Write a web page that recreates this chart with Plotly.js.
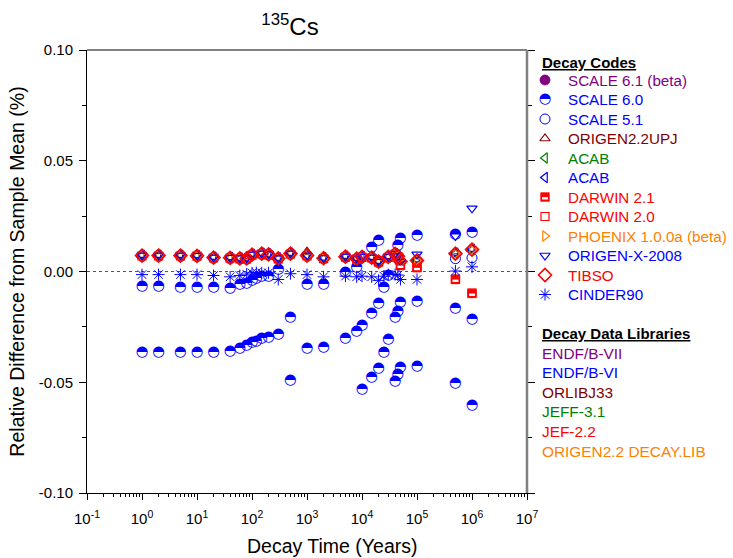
<!DOCTYPE html>
<html><head><meta charset="utf-8">
<script src="https://cdn.plot.ly/plotly-3.0.1.min.js"></script>
<style>html,body{margin:0;padding:0;background:#fff}#chart{width:733px;height:558px}</style>
</head><body><div id="chart"></div>
<script>
// ---------------- DATA ----------------
const decayTime = [1,2,5,10,20,40,60,80,100,120,150,200,300,500,1000,2000,5000,8000,10000,15000,20000,25000,30000,40000,45000,50000,100000,500000,1000000];

const scale61 = [null,null,null,null,null,null,null,null,null,null,null,null,null,null,null,null,null,null,null,null,null,null,null,null,null,null,null,null,null];
const scale60Upper = [-0.0069,-0.0069,-0.0072,-0.0072,-0.0072,-0.0074,-0.0059,-0.0054,-0.0039,-0.0033,-0.0024,-0.0021,0.0008,-0.0205,-0.0059,-0.0056,-0.0006,0.0017,null,0.0107,0.0140,-0.0070,-0.0017,null,0.0117,0.0148,0.0164,0.0167,0.0175];
const scale60Middle = [-0.0363,-0.0363,-0.0363,-0.0363,-0.0363,-0.0360,-0.0345,-0.0334,-0.0322,-0.0315,-0.0304,-0.0299,-0.0284,-0.0492,-0.0348,-0.0342,-0.0302,-0.0272,-0.0244,-0.0187,-0.0144,-0.0364,-0.0307,-0.0205,-0.0179,-0.0141,-0.0134,-0.0167,-0.0214];
const scale60Lower = [null,null,null,null,null,null,null,null,null,null,null,null,null,null,null,null,null,null,-0.0533,-0.0477,-0.0438,null,null,-0.0495,-0.0465,-0.0435,-0.0427,-0.0503,-0.0605];
const scale51 = [0.0070,0.0070,0.0070,0.0069,0.0061,0.0059,0.0057,0.0056,0.0074,null,0.0079,0.0075,0.0057,0.0079,0.0070,0.0058,0.0065,0.0056,0.0064,0.0061,0.0043,null,0.0064,0.0078,0.0067,0.0043,0.0048,0.0058,0.0062];
const origen22upj = [0.0074,0.0074,0.0074,0.0073,0.0065,0.0064,0.0061,0.0061,0.0078,null,0.0083,0.0079,0.0061,0.0083,0.0089,0.0062,0.0069,0.0060,0.0068,0.0065,0.0047,null,0.0068,0.0082,0.0071,0.0047,0.0054,0.0083,0.0101];
const acabJeff = [0.0071,0.0071,0.0071,0.0070,0.0062,0.0061,0.0058,0.0058,0.0075,null,0.0080,0.0076,0.0058,0.0080,0.0071,0.0059,0.0066,0.0057,0.0065,0.0062,0.0043,null,0.0065,0.0079,0.0068,0.0043,0.0051,0.0080,0.0098];
const acabEndf = [0.0074,0.0074,0.0074,0.0073,0.0065,0.0064,0.0061,0.0061,0.0078,null,0.0083,0.0079,0.0061,0.0083,0.0074,0.0062,0.0069,0.0060,0.0068,0.0065,0.0046,null,0.0068,0.0082,0.0071,0.0046,0.0054,0.0083,0.0101];
const darwin21 = [null,null,null,null,null,null,null,null,null,null,null,null,null,null,null,null,null,null,null,null,null,null,null,null,null,0.0027,0.0017,-0.0036,-0.0099];
const darwin20 = [0.0070,0.0070,0.0070,0.0069,0.0061,0.0060,0.0057,0.0057,0.0074,null,0.0079,0.0075,0.0057,0.0079,0.0070,0.0058,0.0065,0.0056,0.0064,0.0061,0.0042,null,0.0064,0.0078,0.0067,0.0030,0.0020,-0.0034,-0.0097];
const phoenix = [0.0070,0.0070,0.0070,0.0069,0.0061,0.0060,0.0057,0.0057,0.0074,null,0.0079,0.0075,0.0057,0.0079,0.0070,0.0058,0.0065,0.0056,0.0064,0.0061,0.0042,null,0.0064,0.0078,0.0067,0.0042,0.0050,0.0079,0.0097];
const origenX2008 = [0.0073,0.0073,0.0073,0.0072,0.0064,0.0063,0.0060,0.0060,0.0077,null,0.0082,0.0078,0.0060,0.0082,0.0073,0.0061,0.0068,0.0059,0.0067,0.0064,0.0045,null,0.0067,0.0081,0.0070,0.0045,0.0077,0.0160,0.0285];
const tibso = [0.0072,0.0072,0.0072,0.0071,0.0063,0.0062,0.0059,0.0059,0.0076,null,0.0081,0.0077,0.0059,0.0081,0.0072,0.0060,0.0067,0.0058,0.0066,0.0063,0.0045,null,0.0066,0.0080,0.0069,0.0045,0.0050,0.0081,0.0099];
const cinder90 = [-0.0014,-0.0014,-0.0014,-0.0014,-0.0018,-0.0024,-0.0018,-0.0012,-0.0006,-0.0005,-0.0006,-0.0006,-0.0036,-0.0010,-0.0014,-0.0024,-0.0021,-0.0024,-0.0021,-0.0024,-0.0040,-0.0021,-0.0014,-0.0014,-0.0016,-0.0036,-0.0036,0.0002,0.0021];

const codeNames = ['SCALE 6.1 (beta)','SCALE 6.0','SCALE 5.1','ORIGEN2.2UPJ','ACAB','ACAB','DARWIN 2.1','DARWIN 2.0','PHOENIX 1.0.0a (beta)','ORIGEN-X-2008','TIBSO','CINDER90'];
const libNames = ['ENDF/B-VII','ENDF/B-VI','ORLIBJ33','JEFF-3.1','JEF-2.2','ORIGEN2.2 DECAY.LIB'];
const xTickVals = [0.1,1,10,100,1000,10000,100000,1000000,10000000];
const xTickText = ['10<sup>-1</sup>','10<sup>0</sup>','10<sup>1</sup>','10<sup>2</sup>','10<sup>3</sup>','10<sup>4</sup>','10<sup>5</sup>','10<sup>6</sup>','10<sup>7</sup>'];
const yTickVals = [-0.1,-0.05,0,0.05,0.1];
const yTickText = ['-0.10','-0.05','0.00','0.05','0.10'];
const yMinorVals = [-0.075,-0.025,0.025,0.075];

// ---------------- STYLE ----------------
const FONT = 'Liberation Sans, Arial, sans-serif';
const BLUE='#0000ff', PURPLE='#800080', DARKRED='#800000', GREEN='#008000', RED='#ff0000', ORANGE='#ff8000';
const codeColors = [PURPLE,BLUE,BLUE,DARKRED,GREEN,BLUE,RED,RED,ORANGE,BLUE,RED,BLUE];
const libColors = [PURPLE,BLUE,DARKRED,GREEN,RED,ORANGE];
const codeStyles = [
  {symbol:'circle', size:10, filled:true},
  {glyph:'\u25D3', size:14.5},
  {symbol:'circle-open', size:10, lw:1},
  {symbol:'triangle-up-open', size:9, lw:1.2},
  {symbol:'triangle-left-open', size:9, lw:1.2},
  {symbol:'triangle-left-open', size:9, lw:1.2},
  {symbol:'square', size:8.5, filled:true, half:true},
  {symbol:'square-open', size:8, lw:1.2},
  {symbol:'triangle-right-open', size:9, lw:1.2},
  {symbol:'triangle-down-open', size:9, lw:1.2},
  {symbol:'diamond-open', size:10, lw:1.6},
  {symbol:'asterisk-open', size:10, lw:1}
];
const codeSeries = [[scale61],[scale60Upper,scale60Middle,scale60Lower],[scale51],[origen22upj],[acabJeff],[acabEndf],[darwin21],[darwin20],[phoenix],[origenX2008],[tibso],[cinder90]];

// half-filled square: white bar drawn on an overlay axis whose range is nudged ~1.5px, so the bar sits in the lower half
function markerTraces(x, y, i, xa, ya, yaBar) {
  const st = codeStyles[i], c = codeColors[i];
  if (st.glyph) {
    return [{
      type:'scatter', mode:'text', x:x, y:y, xaxis:xa, yaxis:ya, showlegend:false, cliponaxis:false,
      text:x.map(() => st.glyph), textposition:'middle center',
      textfont:{family:'DejaVu Sans', size:st.size, color:c}
    }];
  }
  const out = [{
    type:'scatter', mode:'markers', x:x, y:y, xaxis:xa, yaxis:ya, showlegend:false, cliponaxis:false,
    marker:{symbol:st.symbol, size:st.size, color:c, line:{color:c, width: st.filled ? 0.8 : st.lw}}
  }];
  if (st.half) {
    out.push({
      type:'scatter', mode:'markers', x:x, y:y, xaxis:xa, yaxis:yaBar, showlegend:false, cliponaxis:false,
      marker:{symbol:'line-ew', size:st.size*0.5, color:'#ffffff', line:{color:'#ffffff', width:2.4}}
    });
  }
  return out;
}

const traces = [];
codeSeries.forEach((group, i) => group.forEach(vals => traces.push(...markerTraces(decayTime, vals, i, 'x', 'y', 'y3'))));

// legend (drawn in its own pixel-scaled axes on the right)
const legX0 = 530;
const codeRowY = i => 80 + i * 19.5;
const libRowY = j => 353 + j * 19.6;
codeNames.forEach((n, i) => traces.push(...markerTraces([545], [codeRowY(i)], i, 'x2', 'y2', 'y4')));

const annotations = [];
annotations.push({xref:'x2', yref:'y2', x:540, y:62, text:'<b><u>Decay Codes</u></b>', showarrow:false, xanchor:'left', yanchor:'middle', font:{family:FONT, size:15, color:'#000'}});
codeNames.forEach((n, i) => annotations.push({xref:'x2', yref:'y2', x:566, y:codeRowY(i), text:n, showarrow:false, xanchor:'left', yanchor:'middle', font:{family:FONT, size:15.2, color:codeColors[i]}}));
annotations.push({xref:'x2', yref:'y2', x:540, y:333, text:'<b><u>Decay Data Libraries</u></b>', showarrow:false, xanchor:'left', yanchor:'middle', font:{family:FONT, size:15, color:'#000'}});
libNames.forEach((n, j) => annotations.push({xref:'x2', yref:'y2', x:540, y:libRowY(j), text:n, showarrow:false, xanchor:'left', yanchor:'middle', font:{family:FONT, size:15.4, color:libColors[j]}}));
// x-axis title (placed where the reference has it)
annotations.push({xref:'paper', yref:'paper', x:332/733, y:1-546/558, text:'Decay Time (Years)', showarrow:false, xanchor:'center', yanchor:'middle', font:{family:FONT, size:19.5, color:'#000'}});

const W = 733, H = 558;
const Y0 = -0.1, Y1 = 0.1, PLOT_H = 443, BAR_SHIFT_PX = 1.3;
const yNudge = BAR_SHIFT_PX * (Y1 - Y0) / PLOT_H;
const layout = {
  width:W, height:H, margin:{l:0, r:0, t:0, b:0}, paper_bgcolor:'#fff', plot_bgcolor:'rgba(0,0,0,0)',
  showlegend:false, hovermode:false, font:{family:FONT, color:'#000'},
  title:{text:'<sup>135</sup>Cs', xref:'container', yref:'container', x:290/W, xanchor:'center', y:1-27/H, yanchor:'middle', font:{family:FONT, size:24, color:'#000'}},
  xaxis:{type:'log', range:[-1,7], domain:[87/W, 527/W], anchor:'y', showline:true, linecolor:'#000', linewidth:1,
    ticks:'outside', ticklen:6, tickcolor:'#000', tickwidth:1, tickvals:xTickVals, ticktext:xTickText,
    tickfont:{family:FONT, size:15}, showgrid:false, zeroline:false, ticklabelstandoff:6,
    minor:{ticks:'outside', ticklen:3, tickcolor:'#000', dtick:'D1', showgrid:false}},
  yaxis:{range:[Y0,Y1], domain:[1-493/H, 1-50/H], anchor:'x', showline:true, linecolor:'#000', linewidth:1, mirror:'ticks',
    ticks:'outside', ticklen:7, tickcolor:'#000', tickwidth:1, tickvals:yTickVals, ticktext:yTickText,
    tickfont:{family:FONT, size:15}, showgrid:false, zeroline:false, ticklabelstandoff:3,
    minor:{ticks:'outside', ticklen:4, tickcolor:'#000', tickvals:yMinorVals, showgrid:false},
    title:{text:'Relative Difference from Sample Mean (%)', font:{family:FONT, size:19.5}, standoff:8}},
  yaxis3:{overlaying:'y', anchor:'x', range:[Y0 + yNudge, Y1 + yNudge], visible:false, fixedrange:true},
  xaxis2:{domain:[legX0/W, 1], range:[legX0, W], anchor:'y2', visible:false, fixedrange:true},
  yaxis2:{domain:[0, 1], range:[H, 0], anchor:'x2', visible:false, fixedrange:true},
  yaxis4:{overlaying:'y2', anchor:'x2', range:[H - BAR_SHIFT_PX, -BAR_SHIFT_PX], visible:false, fixedrange:true},
  shapes:[
    {type:'line', xref:'x domain', yref:'y', x0:0, x1:1, y0:0, y1:0, line:{color:'#555', width:1.2, dash:'dot'}, layer:'below'},
    {type:'line', xref:'x domain', yref:'y domain', x0:0, x1:1, y0:1, y1:1, line:{color:'#000', width:1}},
    {type:'line', xref:'x domain', yref:'y domain', x0:1, x1:1, y0:0, y1:1, line:{color:'#808080', width:2.5}}
  ],
  annotations:annotations
};
Plotly.newPlot('chart', traces, layout, {staticPlot:true, displayModeBar:false});
</script></body></html>
